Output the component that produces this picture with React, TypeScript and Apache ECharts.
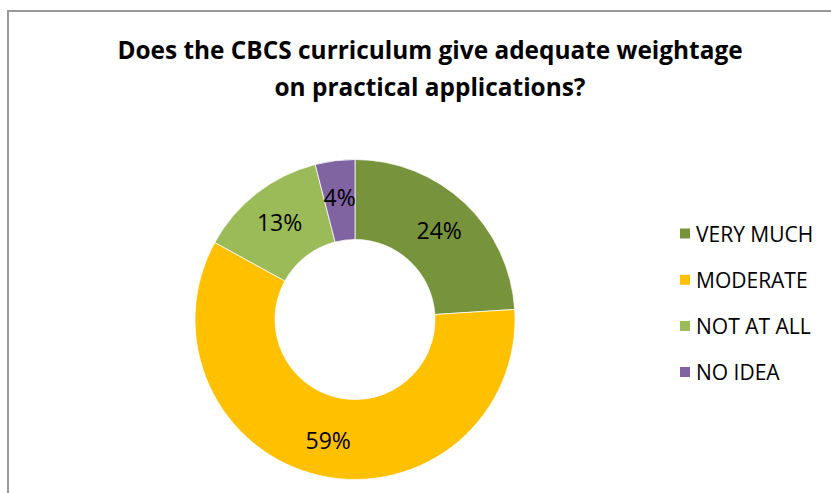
import React, { useEffect, useRef } from "react";
import * as echarts from "echarts";

const categories = ["VERY MUCH", "MODERATE", "NOT AT ALL", "NO IDEA"];
const values = [24, 59, 13, 4];
const colors = ["#77933C", "#FFC000", "#9BBB59", "#8064A2"];
const titleText = "Does the CBCS curriculum give adequate weightage\non practical applications?";

export default function App() {
  const ref = useRef<HTMLDivElement>(null);
  useEffect(() => {
    if (!ref.current) return;
    const chart = echarts.init(ref.current, null, { renderer: "svg" });
    chart.setOption({
      animation: false,
      backgroundColor: "#ffffff",
      title: {
        text: titleText,
        left: 425,
        top: 26,
        textAlign: "center",
        textStyle: {
          fontFamily: "Open Sans",
          fontWeight: "bold",
          fontSize: 24.4,
          lineHeight: 37,
          color: "#000000",
        },
      },
      legend: {
        orient: "vertical",
        left: 673,
        top: 218,
        itemWidth: 12,
        itemHeight: 12,
        itemGap: 25.2,
        icon: "rect",
        selectedMode: false,
        data: categories,
        textStyle: { fontFamily: "Open Sans", fontSize: 21, lineHeight: 20, color: "#000000" },
      },
      graphic: [
        {
          type: "rect",
          shape: { x: 8, y: 11, width: 900, height: 600 },
          style: { fill: "none", stroke: "#999999", lineWidth: 2 },
          silent: true,
        },
      ],
      series: [
        {
          type: "pie",
          radius: [80, 160],
          center: [355, 319.5],
          startAngle: 90,
          clockwise: true,
          silent: true,
          itemStyle: { borderColor: "#ffffff", borderWidth: 0.75 },
          label: {
            show: true,
            position: "inside",
            formatter: "{d}%",
            fontFamily: "Open Sans",
            fontSize: 23,
            color: "#000000",
          },
          labelLine: { show: false },
          data: categories.map((c, i) => ({
            name: c,
            value: values[i],
            itemStyle: { color: colors[i] },
          })),
        },
      ],
    });
    return () => chart.dispose();
  }, []);
  return (
    <div
      ref={ref}
      style={{ position: "fixed", left: 0, top: 0, width: 831, height: 493 }}
    />
  );
}
